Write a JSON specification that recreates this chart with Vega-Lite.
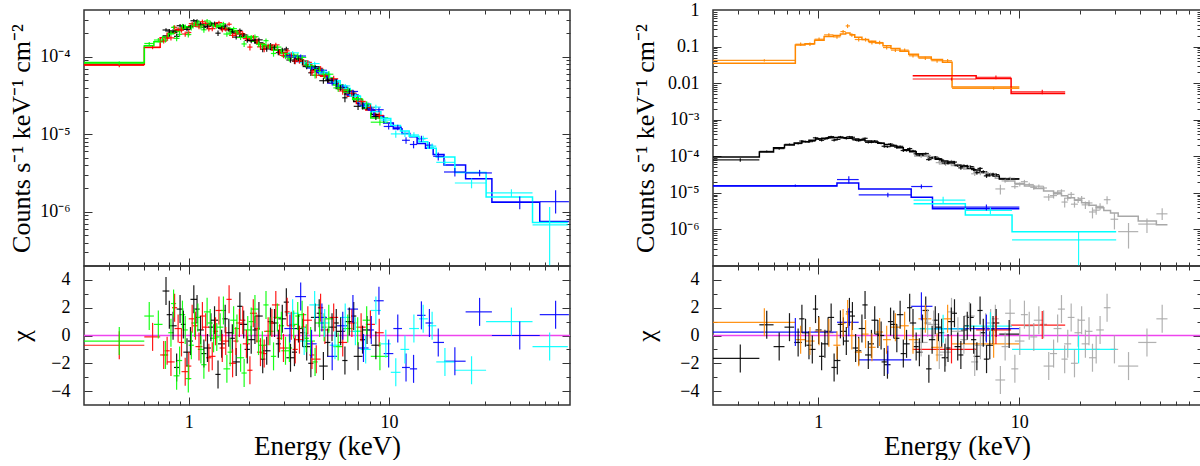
{
"$schema": "https://vega.github.io/schema/vega-lite/v6.json",
"padding": {"left": 7, "top": 0, "right": 0, "bottom": 0},
"config": {
  "font": "Liberation Serif",
  "view": {"stroke": "#333333", "strokeWidth": 1.5},
  "axis": {"grid": false, "domain": false, "labelFont": "Liberation Serif", "labelFontSize": 18, "labelColor": "#000000", "titleFont": "Liberation Serif", "titleFontSize": 26, "titleFontWeight": "normal", "titleColor": "#000000", "tickColor": "#333333", "tickWidth": 1, "labelOverlap": false, "labelFlush": false}
},
"datasets": {
"d": [
{"p":"L","s":"k","e":0.77,"elo":0.74,"ehi":0.80,"y":2.21e-4,"ylo":2.10e-4,"yhi":2.32e-4,"mod":1.85e-4,"chi":3.2},
{"p":"L","s":"k","e":0.835,"elo":0.80,"ehi":0.87,"y":2.14e-4,"ylo":2.02e-4,"yhi":2.26e-4,"mod":2.05e-4,"chi":0.7},
{"p":"L","s":"k","e":0.905,"elo":0.87,"ehi":0.94,"y":2.51e-4,"ylo":2.37e-4,"yhi":2.64e-4,"mod":2.25e-4,"chi":1.9},
{"p":"L","s":"k","e":0.98,"elo":0.94,"ehi":1.02,"y":2.25e-4,"ylo":2.11e-4,"yhi":2.40e-4,"mod":2.42e-4,"chi":-1.2},
{"p":"L","s":"k","e":1.06,"elo":1.02,"ehi":1.10,"y":2.91e-4,"ylo":2.76e-4,"yhi":3.06e-4,"mod":2.52e-4,"chi":2.6},
{"p":"L","s":"k","e":1.145,"elo":1.10,"ehi":1.19,"y":2.64e-4,"ylo":2.48e-4,"yhi":2.79e-4,"mod":2.58e-4,"chi":0.4},
{"p":"L","s":"k","e":1.24,"elo":1.19,"ehi":1.29,"y":2.46e-4,"ylo":2.30e-4,"yhi":2.62e-4,"mod":2.60e-4,"chi":-0.9},
{"p":"L","s":"k","e":1.345,"elo":1.29,"ehi":1.40,"y":2.69e-4,"ylo":2.54e-4,"yhi":2.84e-4,"mod":2.52e-4,"chi":1.1},
{"p":"L","s":"k","e":1.46,"elo":1.40,"ehi":1.52,"y":2.31e-4,"ylo":2.17e-4,"yhi":2.46e-4,"mod":2.40e-4,"chi":-0.6},
{"p":"L","s":"k","e":1.585,"elo":1.52,"ehi":1.65,"y":2.25e-4,"ylo":2.11e-4,"yhi":2.38e-4,"mod":2.22e-4,"chi":0.2},
{"p":"L","s":"k","e":1.725,"elo":1.65,"ehi":1.80,"y":1.79e-4,"ylo":1.67e-4,"yhi":1.91e-4,"mod":2.02e-4,"chi":-1.9},
{"p":"L","s":"k","e":1.88,"elo":1.80,"ehi":1.96,"y":1.91e-4,"ylo":1.80e-4,"yhi":2.02e-4,"mod":1.82e-4,"chi":0.8},
{"p":"L","s":"k","e":2.05,"elo":1.96,"ehi":2.14,"y":1.61e-4,"ylo":1.49e-4,"yhi":1.72e-4,"mod":1.64e-4,"chi":-0.3},
{"p":"L","s":"k","e":2.24,"elo":2.14,"ehi":2.34,"y":1.65e-4,"ylo":1.54e-4,"yhi":1.75e-4,"mod":1.50e-4,"chi":1.4},
{"p":"L","s":"k","e":2.45,"elo":2.34,"ehi":2.56,"y":1.26e-4,"ylo":1.16e-4,"yhi":1.35e-4,"mod":1.36e-4,"chi":-1.1},
{"p":"L","s":"k","e":2.68,"elo":2.56,"ehi":2.80,"y":1.32e-4,"ylo":1.23e-4,"yhi":1.41e-4,"mod":1.24e-4,"chi":0.9},
{"p":"L","s":"k","e":2.93,"elo":2.80,"ehi":3.07,"y":1.22e-4,"ylo":1.14e-4,"yhi":1.30e-4,"mod":1.13e-4,"chi":1.2},
{"p":"L","s":"k","e":3.22,"elo":3.07,"ehi":3.37,"y":9.06e-5,"ylo":8.35e-5,"yhi":9.77e-5,"mod":1.02e-4,"chi":-1.6},
{"p":"L","s":"k","e":3.53,"elo":3.37,"ehi":3.70,"y":9.42e-5,"ylo":8.78e-5,"yhi":1.01e-4,"mod":9.1e-5,"chi":0.5},
{"p":"L","s":"k","e":3.88,"elo":3.70,"ehi":4.07,"y":7.46e-5,"ylo":6.91e-5,"yhi":8.01e-5,"mod":7.9e-5,"chi":-0.8},
{"p":"L","s":"k","e":4.27,"elo":4.07,"ehi":4.48,"y":7.42e-5,"ylo":6.94e-5,"yhi":7.90e-5,"mod":6.8e-5,"chi":1.3},
{"p":"L","s":"k","e":4.70,"elo":4.48,"ehi":4.94,"y":4.90e-5,"ylo":4.49e-5,"yhi":5.31e-5,"mod":5.8e-5,"chi":-2.2},
{"p":"L","s":"k","e":5.19,"elo":4.94,"ehi":5.45,"y":4.95e-5,"ylo":4.53e-5,"yhi":5.37e-5,"mod":4.7e-5,"chi":0.6},
{"p":"L","s":"k","e":5.73,"elo":5.45,"ehi":6.02,"y":4.0e-5,"ylo":3.65e-5,"yhi":4.35e-5,"mod":3.9e-5,"chi":0.3},
{"p":"L","s":"k","e":6.33,"elo":6.02,"ehi":6.66,"y":3.6e-5,"ylo":3.3e-5,"yhi":3.9e-5,"mod":3.3e-5,"chi":1.0},
{"p":"L","s":"k","e":7.0,"elo":6.66,"ehi":7.37,"y":2.29e-5,"ylo":2.05e-5,"yhi":2.53e-5,"mod":2.65e-5,"chi":-1.5},
{"p":"L","s":"k","e":7.76,"elo":7.37,"ehi":8.16,"y":2.23e-5,"ylo":2.04e-5,"yhi":2.42e-5,"mod":2.15e-5,"chi":0.4},
{"p":"L","s":"k","e":8.59,"elo":8.16,"ehi":9.04,"y":1.69e-5,"ylo":1.53e-5,"yhi":1.85e-5,"mod":1.8e-5,"chi":-0.7},
{"p":"L","s":"k","elo":9.04,"mod":1.8e-5},
{"p":"L","s":"k2","e":0.80,"elo":0.776,"ehi":0.824,"y":2.14e-4,"ylo":2.01e-4,"yhi":2.27e-4,"chi":1.5},
{"p":"L","s":"k2","e":0.87,"elo":0.844,"ehi":0.896,"y":1.83e-4,"ylo":1.69e-4,"yhi":1.97e-4,"chi":-2.3},
{"p":"L","s":"k2","e":0.94,"elo":0.912,"ehi":0.968,"y":2.47e-4,"ylo":2.32e-4,"yhi":2.62e-4,"chi":0.8},
{"p":"L","s":"k2","e":1.02,"elo":0.99,"ehi":1.05,"y":2.41e-4,"ylo":2.25e-4,"yhi":2.57e-4,"chi":-0.4},
{"p":"L","s":"k2","e":1.10,"elo":1.067,"ehi":1.133,"y":2.87e-4,"ylo":2.7e-4,"yhi":3.04e-4,"chi":1.9},
{"p":"L","s":"k2","e":1.19,"elo":1.154,"ehi":1.226,"y":2.38e-4,"ylo":2.21e-4,"yhi":2.55e-4,"chi":-1.3},
{"p":"L","s":"k2","e":1.29,"elo":1.251,"ehi":1.329,"y":2.66e-4,"ylo":2.49e-4,"yhi":2.83e-4,"chi":0.6},
{"p":"L","s":"k2","e":1.40,"elo":1.358,"ehi":1.442,"y":2.01e-4,"ylo":1.85e-4,"yhi":2.17e-4,"chi":-2.8},
{"p":"L","s":"k2","e":1.52,"elo":1.474,"ehi":1.566,"y":2.49e-4,"ylo":2.34e-4,"yhi":2.64e-4,"chi":1.2},
{"p":"L","s":"k2","e":1.65,"elo":1.6,"ehi":1.7,"y":2.09e-4,"ylo":1.95e-4,"yhi":2.23e-4,"chi":-0.2},
{"p":"L","s":"k2","e":1.80,"elo":1.746,"ehi":1.854,"y":2.18e-4,"ylo":2.06e-4,"yhi":2.31e-4,"chi":2.1},
{"p":"L","s":"k2","e":1.96,"elo":1.9,"ehi":2.02,"y":1.62e-4,"ylo":1.51e-4,"yhi":1.73e-4,"chi":-1.0},
{"p":"L","s":"k2","e":2.14,"elo":2.08,"ehi":2.2,"y":1.62e-4,"ylo":1.50e-4,"yhi":1.74e-4,"chi":0.4},
{"p":"L","s":"k2","e":2.34,"elo":2.27,"ehi":2.41,"y":1.25e-4,"ylo":1.14e-4,"yhi":1.36e-4,"chi":-1.7},
{"p":"L","s":"k2","e":2.56,"elo":2.48,"ehi":2.64,"y":1.4e-4,"ylo":1.3e-4,"yhi":1.5e-4,"chi":1.0},
{"p":"L","s":"k2","e":2.80,"elo":2.72,"ehi":2.88,"y":1.13e-4,"ylo":1.04e-4,"yhi":1.22e-4,"chi":-0.6},
{"p":"L","s":"k2","e":3.07,"elo":2.98,"ehi":3.16,"y":1.26e-4,"ylo":1.18e-4,"yhi":1.34e-4,"chi":2.4},
{"p":"L","s":"k2","e":3.37,"elo":3.27,"ehi":3.47,"y":8.74e-5,"ylo":8.02e-5,"yhi":9.46e-5,"chi":-1.2},
{"p":"L","s":"k2","e":3.70,"elo":3.59,"ehi":3.81,"y":8.63e-5,"ylo":7.99e-5,"yhi":9.27e-5,"chi":0.2},
{"p":"L","s":"k2","e":4.07,"elo":3.95,"ehi":4.19,"y":6.2e-5,"ylo":5.65e-5,"yhi":6.75e-5,"chi":-2.0},
{"p":"L","s":"k2","e":4.48,"elo":4.35,"ehi":4.61,"y":7.05e-5,"ylo":6.58e-5,"yhi":7.52e-5,"chi":1.6},
{"p":"L","s":"k2","e":4.94,"elo":4.79,"ehi":5.09,"y":5.0e-5,"ylo":4.61e-5,"yhi":5.39e-5,"chi":-0.5},
{"p":"L","s":"k2","e":5.45,"elo":5.29,"ehi":5.61,"y":4.69e-5,"ylo":4.26e-5,"yhi":5.12e-5,"chi":0.9},
{"p":"L","s":"k2","e":6.02,"elo":5.84,"ehi":6.2,"y":2.95e-5,"ylo":2.59e-5,"yhi":3.31e-5,"chi":-1.8},
{"p":"L","s":"k2","e":6.66,"elo":6.46,"ehi":6.86,"y":3.36e-5,"ylo":3.07e-5,"yhi":3.65e-5,"chi":1.4},
{"p":"L","s":"k2","e":7.37,"elo":7.15,"ehi":7.59,"y":2.33e-5,"ylo":2.09e-5,"yhi":2.57e-5,"chi":-0.3},
{"p":"L","s":"r","e":0.45,"elo":0.3,"ehi":0.6,"y":7.72e-5,"ylo":7.32e-5,"yhi":8.12e-5,"mod":8.0e-5,"chi":-0.7},
{"p":"L","s":"r","e":0.66,"elo":0.6,"ehi":0.72,"y":1.31e-4,"ylo":1.25e-4,"yhi":1.38e-4,"mod":1.32e-4,"chi":-0.1},
{"p":"L","s":"r","e":0.75,"elo":0.72,"ehi":0.78,"y":1.59e-4,"ylo":1.48e-4,"yhi":1.70e-4,"mod":1.75e-4,"chi":-1.4},
{"p":"L","s":"r","e":0.815,"elo":0.78,"ehi":0.85,"y":1.75e-4,"ylo":1.62e-4,"yhi":1.88e-4,"mod":2.0e-4,"chi":-1.9},
{"p":"L","s":"r","e":0.885,"elo":0.85,"ehi":0.92,"y":2.25e-4,"ylo":2.11e-4,"yhi":2.39e-4,"mod":2.18e-4,"chi":0.5},
{"p":"L","s":"r","e":0.96,"elo":0.92,"ehi":1.0,"y":1.96e-4,"ylo":1.81e-4,"yhi":2.11e-4,"mod":2.36e-4,"chi":-2.6},
{"p":"L","s":"r","e":1.04,"elo":1.0,"ehi":1.08,"y":2.67e-4,"ylo":2.51e-4,"yhi":2.83e-4,"mod":2.48e-4,"chi":1.2},
{"p":"L","s":"r","e":1.125,"elo":1.08,"ehi":1.17,"y":2.43e-4,"ylo":2.26e-4,"yhi":2.60e-4,"mod":2.56e-4,"chi":-0.8},
{"p":"L","s":"r","e":1.215,"elo":1.17,"ehi":1.26,"y":2.70e-4,"ylo":2.53e-4,"yhi":2.87e-4,"mod":2.6e-4,"chi":0.6},
{"p":"L","s":"r","e":1.31,"elo":1.26,"ehi":1.36,"y":2.30e-4,"ylo":2.13e-4,"yhi":2.47e-4,"mod":2.55e-4,"chi":-1.5},
{"p":"L","s":"r","e":1.415,"elo":1.36,"ehi":1.47,"y":2.75e-4,"ylo":2.59e-4,"yhi":2.91e-4,"mod":2.46e-4,"chi":1.8},
{"p":"L","s":"r","e":1.53,"elo":1.47,"ehi":1.59,"y":2.26e-4,"ylo":2.11e-4,"yhi":2.41e-4,"mod":2.32e-4,"chi":-0.4},
{"p":"L","s":"r","e":1.655,"elo":1.59,"ehi":1.72,"y":1.88e-4,"ylo":1.74e-4,"yhi":2.02e-4,"mod":2.16e-4,"chi":-2.0},
{"p":"L","s":"r","e":1.79,"elo":1.72,"ehi":1.86,"y":2.10e-4,"ylo":1.97e-4,"yhi":2.23e-4,"mod":1.98e-4,"chi":0.9},
{"p":"L","s":"r","e":1.94,"elo":1.86,"ehi":2.02,"y":1.71e-4,"ylo":1.59e-4,"yhi":1.83e-4,"mod":1.78e-4,"chi":-0.6},
{"p":"L","s":"r","e":2.1,"elo":2.02,"ehi":2.19,"y":1.79e-4,"ylo":1.67e-4,"yhi":1.91e-4,"mod":1.6e-4,"chi":1.6},
{"p":"L","s":"r","e":2.28,"elo":2.19,"ehi":2.38,"y":1.34e-4,"ylo":1.23e-4,"yhi":1.45e-4,"mod":1.47e-4,"chi":-1.2},
{"p":"L","s":"r","e":2.49,"elo":2.38,"ehi":2.6,"y":1.37e-4,"ylo":1.27e-4,"yhi":1.47e-4,"mod":1.34e-4,"chi":0.3},
{"p":"L","s":"r","e":2.72,"elo":2.6,"ehi":2.84,"y":1.42e-4,"ylo":1.33e-4,"yhi":1.51e-4,"mod":1.22e-4,"chi":2.2},
{"p":"L","s":"r","e":2.97,"elo":2.84,"ehi":3.1,"y":1.04e-4,"ylo":9.56e-5,"yhi":1.12e-4,"mod":1.12e-4,"chi":-0.9},
{"p":"L","s":"r","e":3.25,"elo":3.1,"ehi":3.4,"y":1.05e-4,"ylo":9.78e-5,"yhi":1.13e-4,"mod":1.0e-4,"chi":0.7},
{"p":"L","s":"r","e":3.57,"elo":3.4,"ehi":3.74,"y":8.8e-5,"ylo":8.12e-5,"yhi":9.48e-5,"mod":9.0e-5,"chi":-0.3},
{"p":"L","s":"r","e":3.93,"elo":3.74,"ehi":4.12,"y":8.45e-5,"ylo":7.86e-5,"yhi":9.04e-5,"mod":7.8e-5,"chi":1.1},
{"p":"L","s":"r","e":4.33,"elo":4.12,"ehi":4.55,"y":5.76e-5,"ylo":5.26e-5,"yhi":6.26e-5,"mod":6.6e-5,"chi":-1.7},
{"p":"L","s":"r","e":4.78,"elo":4.55,"ehi":5.03,"y":5.77e-5,"ylo":5.35e-5,"yhi":6.19e-5,"mod":5.6e-5,"chi":0.4},
{"p":"L","s":"r","e":5.29,"elo":5.03,"ehi":5.57,"y":5.2e-5,"ylo":4.74e-5,"yhi":5.66e-5,"mod":4.6e-5,"chi":1.3},
{"p":"L","s":"r","e":5.87,"elo":5.57,"ehi":6.18,"y":3.61e-5,"ylo":3.23e-5,"yhi":3.99e-5,"mod":3.8e-5,"chi":-0.5},
{"p":"L","s":"r","e":6.52,"elo":6.18,"ehi":6.87,"y":3.38e-5,"ylo":3.07e-5,"yhi":3.69e-5,"mod":3.1e-5,"chi":0.9},
{"p":"L","s":"r","e":7.25,"elo":6.87,"ehi":7.65,"y":2.65e-5,"ylo":2.4e-5,"yhi":2.9e-5,"mod":2.5e-5,"chi":0.6},
{"p":"L","s":"r","e":8.07,"elo":7.65,"ehi":8.5,"y":2.21e-5,"ylo":2.0e-5,"yhi":2.41e-5,"mod":2.05e-5,"chi":0.8},
{"p":"L","s":"r","e":8.93,"elo":8.5,"ehi":9.4,"y":1.75e-5,"ylo":1.58e-5,"yhi":1.92e-5,"mod":1.72e-5,"chi":0.2},
{"p":"L","s":"r","elo":9.4,"mod":1.72e-5},
{"p":"L","s":"r2","e":0.78,"elo":0.757,"ehi":0.803,"y":1.73e-4,"ylo":1.6e-4,"yhi":1.86e-4,"chi":-1.1},
{"p":"L","s":"r2","e":0.85,"elo":0.825,"ehi":0.875,"y":2.39e-4,"ylo":2.24e-4,"yhi":2.54e-4,"chi":2.0},
{"p":"L","s":"r2","e":0.92,"elo":0.892,"ehi":0.948,"y":2.2e-4,"ylo":2.04e-4,"yhi":2.36e-4,"chi":-0.5},
{"p":"L","s":"r2","e":1.0,"elo":0.97,"ehi":1.03,"y":2.05e-4,"ylo":1.88e-4,"yhi":2.22e-4,"chi":-2.2},
{"p":"L","s":"r2","e":1.08,"elo":1.048,"ehi":1.112,"y":2.64e-4,"ylo":2.46e-4,"yhi":2.82e-4,"chi":0.7},
{"p":"L","s":"r2","e":1.17,"elo":1.135,"ehi":1.205,"y":2.83e-4,"ylo":2.65e-4,"yhi":3.01e-4,"chi":1.4},
{"p":"L","s":"r2","e":1.26,"elo":1.222,"ehi":1.298,"y":2.29e-4,"ylo":2.11e-4,"yhi":2.47e-4,"chi":-1.6},
{"p":"L","s":"r2","e":1.36,"elo":1.319,"ehi":1.401,"y":2.55e-4,"ylo":2.38e-4,"yhi":2.73e-4,"chi":0.3},
{"p":"L","s":"r2","e":1.47,"elo":1.426,"ehi":1.514,"y":2.23e-4,"ylo":2.06e-4,"yhi":2.4e-4,"chi":-0.9},
{"p":"L","s":"r2","e":1.59,"elo":1.542,"ehi":1.638,"y":2.62e-4,"ylo":2.47e-4,"yhi":2.78e-4,"chi":2.6},
{"p":"L","s":"r2","e":1.72,"elo":1.668,"ehi":1.772,"y":1.97e-4,"ylo":1.83e-4,"yhi":2.11e-4,"chi":-0.4},
{"p":"L","s":"r2","e":1.86,"elo":1.804,"ehi":1.916,"y":1.98e-4,"ylo":1.85e-4,"yhi":2.11e-4,"chi":1.1},
{"p":"L","s":"r2","e":2.02,"elo":1.96,"ehi":2.08,"y":1.33e-4,"ylo":1.2e-4,"yhi":1.46e-4,"chi":-2.5},
{"p":"L","s":"r2","e":2.19,"elo":2.124,"ehi":2.256,"y":1.59e-4,"ylo":1.47e-4,"yhi":1.71e-4,"chi":0.5},
{"p":"L","s":"r2","e":2.38,"elo":2.309,"ehi":2.451,"y":1.25e-4,"ylo":1.14e-4,"yhi":1.36e-4,"chi":-1.3},
{"p":"L","s":"r2","e":2.6,"elo":2.52,"ehi":2.68,"y":1.36e-4,"ylo":1.26e-4,"yhi":1.46e-4,"chi":0.9},
{"p":"L","s":"r2","e":2.84,"elo":2.75,"ehi":2.93,"y":1.14e-4,"ylo":1.05e-4,"yhi":1.23e-4,"chi":-0.2},
{"p":"L","s":"r2","e":3.1,"elo":3.01,"ehi":3.19,"y":1.19e-4,"ylo":1.11e-4,"yhi":1.27e-4,"chi":1.7},
{"p":"L","s":"r2","e":3.4,"elo":3.3,"ehi":3.5,"y":8.74e-5,"ylo":7.98e-5,"yhi":9.5e-5,"chi":-1.0},
{"p":"L","s":"r2","e":3.74,"elo":3.63,"ehi":3.85,"y":8.7e-5,"ylo":8.04e-5,"yhi":9.36e-5,"chi":0.6},
{"p":"L","s":"r2","e":4.12,"elo":4.0,"ehi":4.24,"y":6.3e-5,"ylo":5.73e-5,"yhi":6.87e-5,"chi":-1.4},
{"p":"L","s":"r2","e":4.55,"elo":4.41,"ehi":4.69,"y":7.08e-5,"ylo":6.59e-5,"yhi":7.57e-5,"chi":2.0},
{"p":"L","s":"gr","e":0.45,"elo":0.3,"ehi":0.6,"y":8.23e-5,"ylo":7.81e-5,"yhi":8.65e-5,"mod":8.4e-5,"chi":-0.4},
{"p":"L","s":"gr","e":0.635,"elo":0.6,"ehi":0.67,"y":1.48e-4,"ylo":1.41e-4,"yhi":1.55e-4,"mod":1.38e-4,"chi":1.4},
{"p":"L","s":"gr","e":0.705,"elo":0.67,"ehi":0.74,"y":1.64e-4,"ylo":1.54e-4,"yhi":1.74e-4,"mod":1.56e-4,"chi":0.8},
{"p":"L","s":"gr","e":0.765,"elo":0.74,"ehi":0.79,"y":1.64e-4,"ylo":1.52e-4,"yhi":1.76e-4,"mod":1.8e-4,"chi":-1.4},
{"p":"L","s":"gr","e":0.815,"elo":0.79,"ehi":0.84,"y":2.01e-4,"ylo":1.88e-4,"yhi":2.14e-4,"mod":1.98e-4,"chi":0.2},
{"p":"L","s":"gr","e":0.87,"elo":0.84,"ehi":0.9,"y":1.72e-4,"ylo":1.58e-4,"yhi":1.86e-4,"mod":2.12e-4,"chi":-2.9},
{"p":"L","s":"gr","e":0.93,"elo":0.9,"ehi":0.96,"y":2.50e-4,"ylo":2.35e-4,"yhi":2.65e-4,"mod":2.28e-4,"chi":1.5},
{"p":"L","s":"gr","e":0.995,"elo":0.96,"ehi":1.03,"y":1.93e-4,"ylo":1.77e-4,"yhi":2.09e-4,"mod":2.42e-4,"chi":-3.1},
{"p":"L","s":"gr","e":1.07,"elo":1.03,"ehi":1.11,"y":2.67e-4,"ylo":2.51e-4,"yhi":2.83e-4,"mod":2.52e-4,"chi":0.9},
{"p":"L","s":"gr","e":1.15,"elo":1.11,"ehi":1.19,"y":2.41e-4,"ylo":2.24e-4,"yhi":2.58e-4,"mod":2.58e-4,"chi":-1.0},
{"p":"L","s":"gr","e":1.235,"elo":1.19,"ehi":1.28,"y":2.89e-4,"ylo":2.72e-4,"yhi":3.06e-4,"mod":2.6e-4,"chi":1.7},
{"p":"L","s":"gr","e":1.33,"elo":1.28,"ehi":1.38,"y":2.52e-4,"ylo":2.35e-4,"yhi":2.68e-4,"mod":2.55e-4,"chi":-0.2},
{"p":"L","s":"gr","e":1.435,"elo":1.38,"ehi":1.49,"y":2.55e-4,"ylo":2.39e-4,"yhi":2.71e-4,"mod":2.45e-4,"chi":0.6},
{"p":"L","s":"gr","e":1.55,"elo":1.49,"ehi":1.61,"y":1.96e-4,"ylo":1.81e-4,"yhi":2.11e-4,"mod":2.32e-4,"chi":-2.4},
{"p":"L","s":"gr","e":1.675,"elo":1.61,"ehi":1.74,"y":2.30e-4,"ylo":2.16e-4,"yhi":2.44e-4,"mod":2.15e-4,"chi":1.1},
{"p":"L","s":"gr","e":1.815,"elo":1.74,"ehi":1.89,"y":1.77e-4,"ylo":1.64e-4,"yhi":1.89e-4,"mod":1.97e-4,"chi":-1.6},
{"p":"L","s":"gr","e":1.97,"elo":1.89,"ehi":2.05,"y":1.82e-4,"ylo":1.70e-4,"yhi":1.93e-4,"mod":1.77e-4,"chi":0.4},
{"p":"L","s":"gr","e":2.14,"elo":2.05,"ehi":2.23,"y":1.81e-4,"ylo":1.69e-4,"yhi":1.93e-4,"mod":1.58e-4,"chi":1.9},
{"p":"L","s":"gr","e":2.33,"elo":2.23,"ehi":2.43,"y":1.37e-4,"ylo":1.26e-4,"yhi":1.48e-4,"mod":1.45e-4,"chi":-0.7},
{"p":"L","s":"gr","e":2.54,"elo":2.43,"ehi":2.65,"y":1.36e-4,"ylo":1.26e-4,"yhi":1.46e-4,"mod":1.33e-4,"chi":0.3},
{"p":"L","s":"gr","e":2.77,"elo":2.65,"ehi":2.9,"y":1.33e-4,"ylo":1.24e-4,"yhi":1.42e-4,"mod":1.21e-4,"chi":1.3},
{"p":"L","s":"gr","e":3.04,"elo":2.9,"ehi":3.18,"y":1.01e-4,"ylo":9.27e-5,"yhi":1.09e-4,"mod":1.1e-4,"chi":-1.1},
{"p":"L","s":"gr","e":3.34,"elo":3.18,"ehi":3.5,"y":1.05e-4,"ylo":9.76e-5,"yhi":1.12e-4,"mod":9.9e-5,"chi":0.8},
{"p":"L","s":"gr","e":3.68,"elo":3.5,"ehi":3.86,"y":9.79e-5,"ylo":9.13e-5,"yhi":1.05e-4,"mod":8.8e-5,"chi":1.5},
{"p":"L","s":"gr","e":4.06,"elo":3.86,"ehi":4.27,"y":7.37e-5,"ylo":6.80e-5,"yhi":7.94e-5,"mod":7.6e-5,"chi":-0.4},
{"p":"L","s":"gr","e":4.5,"elo":4.27,"ehi":4.74,"y":6.83e-5,"ylo":6.35e-5,"yhi":7.31e-5,"mod":6.4e-5,"chi":0.9},
{"p":"L","s":"gr","e":5.0,"elo":4.74,"ehi":5.27,"y":5.94e-5,"ylo":5.41e-5,"yhi":6.47e-5,"mod":5.3e-5,"chi":1.2},
{"p":"L","s":"gr","e":5.57,"elo":5.27,"ehi":5.88,"y":3.96e-5,"ylo":3.53e-5,"yhi":4.39e-5,"mod":4.3e-5,"chi":-0.8},
{"p":"L","s":"gr","e":6.22,"elo":5.88,"ehi":6.58,"y":3.68e-5,"ylo":3.33e-5,"yhi":4.03e-5,"mod":3.5e-5,"chi":0.5},
{"p":"L","s":"gr","e":6.97,"elo":6.58,"ehi":7.38,"y":2.88e-5,"ylo":2.6e-5,"yhi":3.16e-5,"mod":2.8e-5,"chi":0.3},
{"p":"L","s":"gr","e":7.73,"elo":7.38,"ehi":8.1,"y":2.44e-5,"ylo":2.22e-5,"yhi":2.66e-5,"mod":2.2e-5,"chi":1.1},
{"p":"L","s":"gr","e":9.0,"elo":8.1,"ehi":9.9,"y":1.43e-5,"ylo":1.30e-5,"yhi":1.56e-5,"mod":1.62e-5,"chi":-1.5},
{"p":"L","s":"gr","elo":9.9,"mod":1.62e-5},
{"p":"L","s":"gr2","e":0.84,"elo":0.815,"ehi":0.865,"y":2.39e-4,"ylo":2.25e-4,"yhi":2.53e-4,"chi":2.3},
{"p":"L","s":"gr2","e":0.9,"elo":0.873,"ehi":0.927,"y":1.94e-4,"ylo":1.79e-4,"yhi":2.1e-4,"chi":-1.8},
{"p":"L","s":"gr2","e":0.96,"elo":0.931,"ehi":0.989,"y":2.44e-4,"ylo":2.27e-4,"yhi":2.6e-4,"chi":0.4},
{"p":"L","s":"gr2","e":1.03,"elo":0.999,"ehi":1.061,"y":2.36e-4,"ylo":2.18e-4,"yhi":2.53e-4,"chi":-0.7},
{"p":"L","s":"gr2","e":1.11,"elo":1.077,"ehi":1.143,"y":2.79e-4,"ylo":2.61e-4,"yhi":2.97e-4,"chi":1.3},
{"p":"L","s":"gr2","e":1.19,"elo":1.154,"ehi":1.226,"y":2.22e-4,"ylo":2.04e-4,"yhi":2.4e-4,"chi":-2.1},
{"p":"L","s":"gr2","e":1.28,"elo":1.242,"ehi":1.318,"y":2.73e-4,"ylo":2.55e-4,"yhi":2.91e-4,"chi":0.9},
{"p":"L","s":"gr2","e":1.38,"elo":1.339,"ehi":1.421,"y":2.46e-4,"ylo":2.29e-4,"yhi":2.64e-4,"chi":-0.1},
{"p":"L","s":"gr2","e":1.49,"elo":1.445,"ehi":1.535,"y":2.66e-4,"ylo":2.49e-4,"yhi":2.82e-4,"chi":1.8},
{"p":"L","s":"gr2","e":1.61,"elo":1.562,"ehi":1.658,"y":2.02e-4,"ylo":1.86e-4,"yhi":2.17e-4,"chi":-1.2},
{"p":"L","s":"gr2","e":1.74,"elo":1.688,"ehi":1.792,"y":2.07e-4,"ylo":1.93e-4,"yhi":2.21e-4,"chi":0.5},
{"p":"L","s":"gr2","e":1.89,"elo":1.833,"ehi":1.947,"y":1.46e-4,"ylo":1.33e-4,"yhi":1.59e-4,"chi":-2.7},
{"p":"L","s":"gr2","e":2.05,"elo":1.99,"ehi":2.11,"y":1.77e-4,"ylo":1.64e-4,"yhi":1.9e-4,"chi":1.0},
{"p":"L","s":"gr2","e":2.23,"elo":2.163,"ehi":2.297,"y":1.45e-4,"ylo":1.33e-4,"yhi":1.57e-4,"chi":-0.4},
{"p":"L","s":"gr2","e":2.43,"elo":2.357,"ehi":2.503,"y":1.61e-4,"ylo":1.5e-4,"yhi":1.72e-4,"chi":2.2},
{"p":"L","s":"gr2","e":2.65,"elo":2.57,"ehi":2.73,"y":1.1e-4,"ylo":1.0e-4,"yhi":1.2e-4,"chi":-1.5},
{"p":"L","s":"gr2","e":2.9,"elo":2.81,"ehi":2.99,"y":1.19e-4,"ylo":1.1e-4,"yhi":1.28e-4,"chi":0.7},
{"p":"L","s":"gr2","e":3.18,"elo":3.08,"ehi":3.28,"y":9.46e-5,"ylo":8.64e-5,"yhi":1.03e-4,"chi":-0.9},
{"p":"L","s":"gr2","e":3.5,"elo":3.4,"ehi":3.6,"y":1.02e-4,"ylo":9.46e-5,"yhi":1.1e-4,"chi":1.4},
{"p":"L","s":"gr2","e":3.86,"elo":3.74,"ehi":3.98,"y":7.87e-5,"ylo":7.23e-5,"yhi":8.51e-5,"chi":-0.2},
{"p":"L","s":"gr2","e":4.27,"elo":4.14,"ehi":4.4,"y":5.77e-5,"ylo":5.23e-5,"yhi":6.31e-5,"chi":-1.9},
{"p":"L","s":"gr2","e":4.74,"elo":4.6,"ehi":4.88,"y":5.98e-5,"ylo":5.52e-5,"yhi":6.44e-5,"chi":0.6},
{"p":"L","s":"b","e":3.2,"elo":3.0,"ehi":3.4,"y":1.03e-4,"ylo":9.7e-5,"yhi":1.09e-4,"mod":1.0e-4,"chi":0.5},
{"p":"L","s":"b","e":3.62,"elo":3.4,"ehi":3.85,"y":1.02e-4,"ylo":9.66e-5,"yhi":1.07e-4,"mod":8.7e-5,"chi":2.8},
{"p":"L","s":"b","e":4.1,"elo":3.85,"ehi":4.35,"y":7.14e-5,"ylo":6.7e-5,"yhi":7.58e-5,"mod":7.4e-5,"chi":-0.6},
{"p":"L","s":"b","e":4.62,"elo":4.35,"ehi":4.9,"y":6.68e-5,"ylo":6.31e-5,"yhi":7.05e-5,"mod":6.2e-5,"chi":1.3},
{"p":"L","s":"b","e":5.2,"elo":4.9,"ehi":5.5,"y":4.55e-5,"ylo":4.25e-5,"yhi":4.85e-5,"mod":5.0e-5,"chi":-1.5},
{"p":"L","s":"b","e":5.87,"elo":5.5,"ehi":6.2,"y":4.17e-5,"ylo":3.93e-5,"yhi":4.41e-5,"mod":4.0e-5,"chi":0.7},
{"p":"L","s":"b","e":6.6,"elo":6.2,"ehi":7.0,"y":3.56e-5,"ylo":3.37e-5,"yhi":3.75e-5,"mod":3.2e-5,"chi":1.9},
{"p":"L","s":"b","e":7.45,"elo":7.0,"ehi":7.9,"y":2.37e-5,"ylo":2.22e-5,"yhi":2.52e-5,"mod":2.5e-5,"chi":-0.9},
{"p":"L","s":"b","e":8.15,"elo":7.9,"ehi":8.4,"y":2.11e-5,"ylo":1.95e-5,"yhi":2.27e-5,"mod":2.05e-5,"chi":0.4},
{"p":"L","s":"b","e":8.9,"elo":8.4,"ehi":9.4,"y":2.07e-5,"ylo":1.93e-5,"yhi":2.21e-5,"mod":1.72e-5,"chi":2.5},
{"p":"L","s":"b","e":9.95,"elo":9.4,"ehi":10.5,"y":1.26e-5,"ylo":1.15e-5,"yhi":1.37e-5,"mod":1.4e-5,"chi":-1.3},
{"p":"L","s":"b","e":11.05,"elo":10.5,"ehi":11.6,"y":1.23e-5,"ylo":1.13e-5,"yhi":1.33e-5,"mod":1.18e-5,"chi":0.5},
{"p":"L","s":"b","e":12.15,"elo":11.6,"ehi":12.7,"y":8.36e-6,"ylo":7.56e-6,"yhi":9.16e-6,"mod":1.02e-5,"chi":-2.3},
{"p":"L","s":"b","e":13.25,"elo":12.7,"ehi":13.8,"y":7.38e-6,"ylo":6.58e-6,"yhi":8.18e-6,"mod":9.3e-6,"chi":-2.4},
{"p":"L","s":"b","e":14.5,"elo":13.8,"ehi":15.2,"y":8.76e-6,"ylo":7.96e-6,"yhi":9.56e-6,"mod":7.6e-6,"chi":1.45},
{"p":"L","s":"b","e":15.9,"elo":15.2,"ehi":16.6,"y":7.23e-6,"ylo":6.53e-6,"yhi":7.93e-6,"mod":6.6e-6,"chi":0.9},
{"p":"L","s":"b","e":17.6,"elo":16.6,"ehi":18.8,"y":5.2e-6,"ylo":4.6e-6,"yhi":5.8e-6,"mod":5.5e-6,"chi":-0.5},
{"p":"L","s":"b","e":21.3,"elo":18.8,"ehi":24.1,"y":3.26e-6,"ylo":2.86e-6,"yhi":3.66e-6,"mod":4.0e-6,"chi":-1.85},
{"p":"L","s":"b","e":28.3,"elo":24.1,"ehi":32.6,"y":3.17e-6,"ylo":2.87e-6,"yhi":3.47e-6,"mod":2.66e-6,"chi":1.7},
{"p":"L","s":"b","e":44.9,"elo":32.6,"ehi":56.5,"y":1.33e-6,"ylo":1.08e-6,"yhi":1.58e-6,"mod":1.33e-6,"chi":0.0},
{"p":"L","s":"b","e":67.8,"elo":56.5,"ehi":79,"y":1.35e-6,"ylo":9.5e-7,"yhi":1.9e-6,"mod":7.5e-7,"chi":1.5},
{"p":"L","s":"b","elo":79,"mod":7.5e-7},
{"p":"L","s":"c","e":3.3,"elo":3.1,"ehi":3.55,"y":1.12e-4,"ylo":1.06e-4,"yhi":1.18e-4,"mod":1.02e-4,"chi":1.6},
{"p":"L","s":"c","e":3.77,"elo":3.55,"ehi":4.0,"y":8.39e-5,"ylo":7.87e-5,"yhi":8.91e-5,"mod":8.6e-5,"chi":-0.4},
{"p":"L","s":"c","e":4.25,"elo":4.0,"ehi":4.5,"y":8.15e-5,"ylo":7.72e-5,"yhi":8.58e-5,"mod":7.2e-5,"chi":2.2},
{"p":"L","s":"c","e":4.77,"elo":4.5,"ehi":5.05,"y":6.32e-5,"ylo":5.96e-5,"yhi":6.68e-5,"mod":6.0e-5,"chi":0.9},
{"p":"L","s":"c","e":5.37,"elo":5.05,"ehi":5.7,"y":4.7e-5,"ylo":4.41e-5,"yhi":4.99e-5,"mod":4.9e-5,"chi":-0.7},
{"p":"L","s":"c","e":6.04,"elo":5.7,"ehi":6.4,"y":4.2e-5,"ylo":3.97e-5,"yhi":4.43e-5,"mod":3.9e-5,"chi":1.3},
{"p":"L","s":"c","e":6.79,"elo":6.4,"ehi":7.2,"y":3.16e-5,"ylo":2.97e-5,"yhi":3.35e-5,"mod":3.1e-5,"chi":0.3},
{"p":"L","s":"c","e":7.64,"elo":7.2,"ehi":8.1,"y":2.3e-5,"ylo":2.15e-5,"yhi":2.45e-5,"mod":2.45e-5,"chi":-1.0},
{"p":"L","s":"c","e":8.59,"elo":8.1,"ehi":9.1,"y":2.24e-5,"ylo":2.08e-5,"yhi":2.4e-5,"mod":1.95e-5,"chi":1.8},
{"p":"L","s":"c","e":9.63,"elo":9.1,"ehi":10.2,"y":1.52e-5,"ylo":1.39e-5,"yhi":1.65e-5,"mod":1.6e-5,"chi":-0.6},
{"p":"L","s":"c","e":10.8,"elo":10.2,"ehi":11.4,"y":1.01e-5,"ylo":9.0e-6,"yhi":1.12e-5,"mod":1.3e-5,"chi":-2.65},
{"p":"L","s":"c","e":12.0,"elo":11.4,"ehi":12.6,"y":1.01e-5,"ylo":9.2e-6,"yhi":1.1e-5,"mod":1.1e-5,"chi":-1.0},
{"p":"L","s":"c","e":13.3,"elo":12.6,"ehi":14.1,"y":9.8e-6,"ylo":9.0e-6,"yhi":1.06e-5,"mod":9.4e-6,"chi":0.5},
{"p":"L","s":"c","e":14.8,"elo":14.1,"ehi":15.6,"y":8.84e-6,"ylo":8.14e-6,"yhi":9.54e-6,"mod":8.0e-6,"chi":1.2},
{"p":"L","s":"c","e":16.4,"elo":15.6,"ehi":17.2,"y":7.02e-6,"ylo":6.42e-6,"yhi":7.62e-6,"mod":6.6e-6,"chi":0.7},
{"p":"L","s":"c","e":19.0,"elo":17.2,"ehi":21.3,"y":4.34e-6,"ylo":3.94e-6,"yhi":4.74e-6,"mod":5.1e-6,"chi":-1.9},
{"p":"L","s":"c","e":25.8,"elo":21.3,"ehi":30.5,"y":2.35e-6,"ylo":2.01e-6,"yhi":2.69e-6,"mod":3.2e-6,"chi":-2.5},
{"p":"L","s":"c","e":40.8,"elo":30.5,"ehi":52,"y":1.75e-6,"ylo":1.55e-6,"yhi":1.95e-6,"mod":1.55e-6,"chi":1.0},
{"p":"L","s":"c","e":63.3,"elo":52,"ehi":78,"y":6.8e-7,"ylo":1.5e-7,"yhi":1.15e-6,"mod":7.3e-7,"chi":-0.8},
{"p":"L","s":"c","elo":78,"mod":7.3e-7},
{"p":"R","s":"gy","e":3.25,"elo":3.0,"ehi":3.5,"y":1.0e-4,"ylo":9.0e-5,"yhi":1.1e-4,"mod":1.05e-4,"chi":-0.5},
{"p":"R","s":"gy","e":3.75,"elo":3.5,"ehi":4.0,"y":9.38e-5,"ylo":8.53e-5,"yhi":1.02e-4,"mod":8.7e-5,"chi":0.8},
{"p":"R","s":"gy","e":4.3,"elo":4.0,"ehi":4.6,"y":6.16e-5,"ylo":5.46e-5,"yhi":6.86e-5,"mod":7.0e-5,"chi":-1.2},
{"p":"R","s":"gy","e":4.95,"elo":4.6,"ehi":5.3,"y":5.77e-5,"ylo":5.21e-5,"yhi":6.33e-5,"mod":5.6e-5,"chi":0.3},
{"p":"R","s":"gy","e":5.65,"elo":5.3,"ehi":6.0,"y":5.13e-5,"ylo":4.68e-5,"yhi":5.58e-5,"mod":4.5e-5,"chi":1.4},
{"p":"R","s":"gy","e":6.4,"elo":6.0,"ehi":6.8,"y":3.43e-5,"ylo":3.05e-5,"yhi":3.81e-5,"mod":3.7e-5,"chi":-0.7},
{"p":"R","s":"gy","e":7.2,"elo":6.8,"ehi":7.6,"y":3.29e-5,"ylo":2.97e-5,"yhi":3.61e-5,"mod":3.0e-5,"chi":0.9},
{"p":"R","s":"gy","e":8.05,"elo":7.6,"ehi":8.5,"y":1.28e-5,"ylo":9.0e-6,"yhi":1.66e-5,"mod":2.5e-5,"chi":-3.2},
{"p":"R","s":"gy","e":9.0,"elo":8.5,"ehi":9.5,"y":2.5e-5,"ylo":2.25e-5,"yhi":2.75e-5,"mod":2.1e-5,"chi":1.6},
{"p":"R","s":"gy","e":10.05,"elo":9.5,"ehi":10.6,"y":1.71e-5,"ylo":1.49e-5,"yhi":1.93e-5,"mod":1.8e-5,"chi":-0.4},
{"p":"R","s":"gy","e":11.2,"elo":10.6,"ehi":11.8,"y":1.69e-5,"ylo":1.49e-5,"yhi":1.89e-5,"mod":1.55e-5,"chi":0.7},
{"p":"R","s":"gy","e":12.5,"elo":11.8,"ehi":13.2,"y":1.52e-5,"ylo":1.34e-5,"yhi":1.7e-5,"mod":1.32e-5,"chi":1.1},
{"p":"R","s":"gy","e":14.0,"elo":13.2,"ehi":14.8,"y":7.7e-6,"ylo":6.1e-6,"yhi":9.3e-6,"mod":1.12e-5,"chi":-2.2},
{"p":"R","s":"gy","e":15.5,"elo":14.8,"ehi":16.2,"y":1.03e-5,"ylo":8.8e-6,"yhi":1.18e-5,"mod":9.5e-6,"chi":0.5},
{"p":"R","s":"gy","e":16.8,"elo":16.2,"ehi":17.4,"y":5.6e-6,"ylo":4.0e-6,"yhi":7.2e-6,"mod":8.3e-6,"chi":-1.7},
{"p":"R","s":"gy","e":18.1,"elo":17.4,"ehi":18.8,"y":9.1e-6,"ylo":7.7e-6,"yhi":1.05e-5,"mod":7.3e-6,"chi":1.3},
{"p":"R","s":"gy","e":19.6,"elo":18.8,"ehi":20.4,"y":6.5e-6,"ylo":5.3e-6,"yhi":7.7e-6,"mod":6.3e-6,"chi":0.2},
{"p":"R","s":"gy","e":21.3,"elo":20.4,"ehi":22.2,"y":4.7e-6,"ylo":3.6e-6,"yhi":5.8e-6,"mod":5.4e-6,"chi":-0.6},
{"p":"R","s":"gy","e":23.1,"elo":22.2,"ehi":24.1,"y":3.0e-6,"ylo":2.0e-6,"yhi":4.0e-6,"mod":4.6e-6,"chi":-1.6},
{"p":"R","s":"gy","e":25.2,"elo":24.1,"ehi":26.3,"y":4.26e-6,"ylo":3.36e-6,"yhi":5.16e-6,"mod":3.9e-6,"chi":0.4},
{"p":"R","s":"gy","e":27.3,"elo":26.3,"ehi":28.4,"y":6.5e-6,"ylo":4.9e-6,"yhi":8.1e-6,"mod":3.3e-6,"chi":2.0},
{"p":"R","s":"gy","e":29.7,"elo":28.4,"ehi":31.0,"y":1.9e-6,"ylo":1.0e-6,"yhi":2.8e-6,"mod":2.8e-6,"chi":-1.0},
{"p":"R","s":"gy","e":34.9,"elo":31.0,"ehi":39.0,"y":8.7e-7,"ylo":3.0e-7,"yhi":1.5e-6,"mod":2.3e-6,"chi":-2.2},
{"p":"R","s":"gy","e":43.1,"elo":39.0,"ehi":48.0,"y":1.4e-6,"ylo":8.0e-7,"yhi":2.0e-6,"mod":1.7e-6,"chi":-0.5},
{"p":"R","s":"gy","e":51.3,"elo":48.0,"ehi":54.5,"y":2.67e-6,"ylo":1.8e-6,"yhi":3.8e-6,"mod":1.35e-6,"chi":1.2},
{"p":"R","s":"gy","elo":54.5,"mod":1.35e-6},
{"p":"R","s":"gy2","e":3.5,"elo":3.36,"ehi":3.64,"y":1.05e-4,"ylo":9.5e-5,"yhi":1.14e-4,"chi":0.9},
{"p":"R","s":"gy2","e":4.0,"elo":3.84,"ehi":4.16,"y":6.71e-5,"ylo":5.93e-5,"yhi":7.49e-5,"chi":-1.4},
{"p":"R","s":"gy2","e":4.6,"elo":4.42,"ehi":4.78,"y":7.37e-5,"ylo":6.74e-5,"yhi":8.0e-5,"chi":1.7},
{"p":"R","s":"gy2","e":5.3,"elo":5.09,"ehi":5.51,"y":4.85e-5,"ylo":4.35e-5,"yhi":5.35e-5,"chi":-0.3},
{"p":"R","s":"gy2","e":6.0,"elo":5.76,"ehi":6.24,"y":3.32e-5,"ylo":2.91e-5,"yhi":3.73e-5,"chi":-1.9},
{"p":"R","s":"gy2","e":6.8,"elo":6.53,"ehi":7.07,"y":3.55e-5,"ylo":3.22e-5,"yhi":3.89e-5,"chi":0.6},
{"p":"R","s":"gy2","e":7.6,"elo":7.3,"ehi":7.9,"y":3.08e-5,"ylo":2.81e-5,"yhi":3.36e-5,"chi":1.2},
{"p":"R","s":"gy2","e":8.5,"elo":8.16,"ehi":8.84,"y":2.12e-5,"ylo":1.89e-5,"yhi":2.35e-5,"chi":-0.8},
{"p":"R","s":"gy2","e":9.5,"elo":9.12,"ehi":9.88,"y":1.48e-5,"ylo":1.29e-5,"yhi":1.68e-5,"chi":-2.4},
{"p":"R","s":"gy2","e":10.6,"elo":10.18,"ehi":11.02,"y":2.02e-5,"ylo":1.79e-5,"yhi":2.26e-5,"chi":1.5},
{"p":"R","s":"gy2","e":11.8,"elo":11.33,"ehi":12.27,"y":1.41e-5,"ylo":1.21e-5,"yhi":1.61e-5,"chi":-0.1},
{"p":"R","s":"gy2","e":13.2,"elo":12.67,"ehi":13.73,"y":1.36e-5,"ylo":1.19e-5,"yhi":1.53e-5,"chi":0.8},
{"p":"R","s":"gy2","e":14.8,"elo":14.2,"ehi":15.4,"y":8.43e-6,"ylo":6.99e-6,"yhi":9.87e-6,"chi":-1.3},
{"p":"R","s":"gy2","e":16.2,"elo":15.55,"ehi":16.85,"y":1.13e-5,"ylo":1.0e-5,"yhi":1.25e-5,"chi":1.9},
{"p":"R","s":"gy2","e":17.4,"elo":16.7,"ehi":18.1,"y":7.15e-6,"ylo":6.06e-6,"yhi":8.24e-6,"chi":-0.6},
{"p":"R","s":"gy2","e":18.8,"elo":18.05,"ehi":19.55,"y":4.9e-6,"ylo":3.95e-6,"yhi":5.85e-6,"chi":-2.0},
{"p":"R","s":"gy2","e":20.4,"elo":19.58,"ehi":21.22,"y":7.08e-6,"ylo":5.92e-6,"yhi":8.24e-6,"chi":1.1},
{"p":"R","s":"gy2","e":22.2,"elo":21.3,"ehi":23.1,"y":5.3e-6,"ylo":4.3e-6,"yhi":6.3e-6,"chi":0.3},
{"p":"R","s":"gy2","e":24.1,"elo":23.1,"ehi":25.1,"y":3.36e-6,"ylo":2.52e-6,"yhi":4.2e-6,"chi":-1.0},
{"p":"R","s":"k","e":0.41,"elo":0.3,"ehi":0.51,"y":8.0e-5,"ylo":7.1e-5,"yhi":8.9e-5,"mod":9.5e-5,"chi":-1.65},
{"p":"R","s":"k","e":0.555,"elo":0.51,"ehi":0.6,"y":1.36e-4,"ylo":1.28e-4,"yhi":1.44e-4,"mod":1.3e-4,"chi":0.77},
{"p":"R","s":"k","e":0.64,"elo":0.6,"ehi":0.68,"y":1.62e-4,"ylo":1.52e-4,"yhi":1.72e-4,"mod":1.7e-4,"chi":-0.8},
{"p":"R","s":"k","e":0.72,"elo":0.68,"ehi":0.76,"y":2.12e-4,"ylo":2.0e-4,"yhi":2.24e-4,"mod":2.05e-4,"chi":0.6},
{"p":"R","s":"k","e":0.795,"elo":0.76,"ehi":0.83,"y":2.23e-4,"ylo":2.09e-4,"yhi":2.37e-4,"mod":2.3e-4,"chi":-0.5},
{"p":"R","s":"k","e":0.865,"elo":0.83,"ehi":0.9,"y":2.53e-4,"ylo":2.38e-4,"yhi":2.68e-4,"mod":2.5e-4,"chi":0.2},
{"p":"R","s":"k","e":0.935,"elo":0.9,"ehi":0.97,"y":2.59e-4,"ylo":2.42e-4,"yhi":2.75e-4,"mod":2.75e-4,"chi":-1.0},
{"p":"R","s":"k","e":1.005,"elo":0.97,"ehi":1.04,"y":3.02e-4,"ylo":2.84e-4,"yhi":3.2e-4,"mod":2.95e-4,"chi":0.4},
{"p":"R","s":"k","e":1.08,"elo":1.04,"ehi":1.12,"y":2.99e-4,"ylo":2.8e-4,"yhi":3.18e-4,"mod":3.1e-4,"chi":-0.6},
{"p":"R","s":"k","e":1.16,"elo":1.12,"ehi":1.2,"y":3.45e-4,"ylo":3.26e-4,"yhi":3.64e-4,"mod":3.2e-4,"chi":1.3},
{"p":"R","s":"k","e":1.245,"elo":1.2,"ehi":1.29,"y":2.9e-4,"ylo":2.7e-4,"yhi":3.09e-4,"mod":3.25e-4,"chi":-1.8},
{"p":"R","s":"k","e":1.335,"elo":1.29,"ehi":1.38,"y":3.26e-4,"ylo":3.07e-4,"yhi":3.45e-4,"mod":3.2e-4,"chi":0.3},
{"p":"R","s":"k","e":1.43,"elo":1.38,"ehi":1.48,"y":3.42e-4,"ylo":3.23e-4,"yhi":3.61e-4,"mod":3.1e-4,"chi":1.7},
{"p":"R","s":"k","e":1.535,"elo":1.48,"ehi":1.59,"y":2.79e-4,"ylo":2.61e-4,"yhi":2.97e-4,"mod":2.95e-4,"chi":-0.9},
{"p":"R","s":"k","e":1.65,"elo":1.59,"ehi":1.71,"y":2.89e-4,"ylo":2.72e-4,"yhi":3.06e-4,"mod":2.8e-4,"chi":0.5},
{"p":"R","s":"k","e":1.775,"elo":1.71,"ehi":1.84,"y":2.4e-4,"ylo":2.24e-4,"yhi":2.56e-4,"mod":2.62e-4,"chi":-1.4},
{"p":"R","s":"k","e":1.91,"elo":1.84,"ehi":1.98,"y":2.62e-4,"ylo":2.47e-4,"yhi":2.77e-4,"mod":2.45e-4,"chi":1.1},
{"p":"R","s":"k","e":2.055,"elo":1.98,"ehi":2.13,"y":2.28e-4,"ylo":2.14e-4,"yhi":2.42e-4,"mod":2.28e-4,"chi":0.0},
{"p":"R","s":"k","e":2.21,"elo":2.13,"ehi":2.29,"y":1.83e-4,"ylo":1.7e-4,"yhi":1.96e-4,"mod":2.1e-4,"chi":-2.1},
{"p":"R","s":"k","e":2.375,"elo":2.29,"ehi":2.46,"y":2.0e-4,"ylo":1.88e-4,"yhi":2.12e-4,"mod":1.9e-4,"chi":0.8},
{"p":"R","s":"k","e":2.555,"elo":2.46,"ehi":2.65,"y":1.87e-4,"ylo":1.76e-4,"yhi":1.98e-4,"mod":1.7e-4,"chi":1.5},
{"p":"R","s":"k","e":2.75,"elo":2.65,"ehi":2.85,"y":1.44e-4,"ylo":1.34e-4,"yhi":1.54e-4,"mod":1.5e-4,"chi":-0.6},
{"p":"R","s":"k","e":2.96,"elo":2.85,"ehi":3.07,"y":1.41e-4,"ylo":1.32e-4,"yhi":1.5e-4,"mod":1.33e-4,"chi":0.9},
{"p":"R","s":"k","e":3.185,"elo":3.07,"ehi":3.3,"y":1.08e-4,"ylo":1.0e-4,"yhi":1.16e-4,"mod":1.18e-4,"chi":-1.2},
{"p":"R","s":"k","e":3.425,"elo":3.3,"ehi":3.55,"y":1.19e-4,"ylo":1.11e-4,"yhi":1.26e-4,"mod":1.05e-4,"chi":1.8},
{"p":"R","s":"k","e":3.685,"elo":3.55,"ehi":3.82,"y":9.1e-5,"ylo":8.45e-5,"yhi":9.75e-5,"mod":9.3e-5,"chi":-0.3},
{"p":"R","s":"k","e":3.965,"elo":3.82,"ehi":4.11,"y":8.66e-5,"ylo":8.06e-5,"yhi":9.26e-5,"mod":8.3e-5,"chi":0.6},
{"p":"R","s":"k","e":4.265,"elo":4.11,"ehi":4.42,"y":6.52e-5,"ylo":5.97e-5,"yhi":7.07e-5,"mod":7.4e-5,"chi":-1.6},
{"p":"R","s":"k","e":4.59,"elo":4.42,"ehi":4.76,"y":7.1e-5,"ylo":6.6e-5,"yhi":7.6e-5,"mod":6.6e-5,"chi":1.0},
{"p":"R","s":"k","e":4.94,"elo":4.76,"ehi":5.12,"y":5.54e-5,"ylo":5.09e-5,"yhi":5.99e-5,"mod":5.9e-5,"chi":-0.8},
{"p":"R","s":"k","e":5.31,"elo":5.12,"ehi":5.51,"y":5.48e-5,"ylo":5.03e-5,"yhi":5.93e-5,"mod":5.3e-5,"chi":0.4},
{"p":"R","s":"k","e":5.72,"elo":5.51,"ehi":5.93,"y":5.22e-5,"ylo":4.82e-5,"yhi":5.62e-5,"mod":4.7e-5,"chi":1.3},
{"p":"R","s":"k","e":6.15,"elo":5.93,"ehi":6.38,"y":3.6e-5,"ylo":3.2e-5,"yhi":4.0e-5,"mod":4.2e-5,"chi":-1.5},
{"p":"R","s":"k","e":6.62,"elo":6.38,"ehi":6.87,"y":3.77e-5,"ylo":3.42e-5,"yhi":4.12e-5,"mod":3.7e-5,"chi":0.2},
{"p":"R","s":"k","e":7.13,"elo":6.87,"ehi":7.4,"y":3.08e-5,"ylo":2.76e-5,"yhi":3.4e-5,"mod":3.3e-5,"chi":-0.7},
{"p":"R","s":"k","e":7.67,"elo":7.4,"ehi":7.95,"y":3.16e-5,"ylo":2.87e-5,"yhi":3.45e-5,"mod":2.9e-5,"chi":0.9},
{"p":"R","s":"k","e":8.9,"elo":7.95,"ehi":10.0,"y":2.42e-5,"ylo":2.24e-5,"yhi":2.6e-5,"mod":2.4e-5,"chi":0.1},
{"p":"R","s":"k","elo":10.0,"mod":2.4e-5},
{"p":"R","s":"k2","e":0.83,"elo":0.805,"ehi":0.855,"y":2.61e-4,"ylo":2.45e-4,"yhi":2.77e-4,"chi":1.2},
{"p":"R","s":"k2","e":0.9,"elo":0.873,"ehi":0.927,"y":2.5e-4,"ylo":2.33e-4,"yhi":2.67e-4,"chi":-0.7},
{"p":"R","s":"k2","e":0.97,"elo":0.941,"ehi":0.999,"y":3.2e-4,"ylo":3.02e-4,"yhi":3.39e-4,"chi":1.9},
{"p":"R","s":"k2","e":1.04,"elo":1.009,"ehi":1.071,"y":2.73e-4,"ylo":2.54e-4,"yhi":2.93e-4,"chi":-1.5},
{"p":"R","s":"k2","e":1.12,"elo":1.086,"ehi":1.154,"y":3.21e-4,"ylo":3.01e-4,"yhi":3.42e-4,"chi":0.3},
{"p":"R","s":"k2","e":1.2,"elo":1.164,"ehi":1.236,"y":2.75e-4,"ylo":2.54e-4,"yhi":2.96e-4,"chi":-2.3},
{"p":"R","s":"k2","e":1.29,"elo":1.251,"ehi":1.329,"y":3.4e-4,"ylo":3.19e-4,"yhi":3.61e-4,"chi":0.8},
{"p":"R","s":"k2","e":1.38,"elo":1.339,"ehi":1.421,"y":3.07e-4,"ylo":2.86e-4,"yhi":3.27e-4,"chi":-0.4},
{"p":"R","s":"k2","e":1.48,"elo":1.436,"ehi":1.524,"y":3.31e-4,"ylo":3.11e-4,"yhi":3.51e-4,"chi":1.4},
{"p":"R","s":"k2","e":1.59,"elo":1.542,"ehi":1.638,"y":2.67e-4,"ylo":2.49e-4,"yhi":2.86e-4,"chi":-1.1},
{"p":"R","s":"k2","e":1.71,"elo":1.659,"ehi":1.761,"y":3.1e-4,"ylo":2.92e-4,"yhi":3.27e-4,"chi":2.2},
{"p":"R","s":"k2","e":1.84,"elo":1.785,"ehi":1.895,"y":2.43e-4,"ylo":2.27e-4,"yhi":2.59e-4,"chi":-0.6},
{"p":"R","s":"k2","e":1.98,"elo":1.921,"ehi":2.039,"y":2.38e-4,"ylo":2.22e-4,"yhi":2.53e-4,"chi":0.1},
{"p":"R","s":"k2","e":2.13,"elo":2.066,"ehi":2.194,"y":1.88e-4,"ylo":1.72e-4,"yhi":2.04e-4,"chi":-1.9},
{"p":"R","s":"k2","e":2.29,"elo":2.221,"ehi":2.359,"y":2.15e-4,"ylo":2.0e-4,"yhi":2.3e-4,"chi":1.0},
{"p":"R","s":"k2","e":2.46,"elo":2.386,"ehi":2.534,"y":1.77e-4,"ylo":1.64e-4,"yhi":1.91e-4,"chi":-0.2},
{"p":"R","s":"k2","e":2.65,"elo":2.57,"ehi":2.73,"y":1.44e-4,"ylo":1.32e-4,"yhi":1.56e-4,"chi":-1.3},
{"p":"R","s":"k2","e":2.85,"elo":2.765,"ehi":2.935,"y":1.62e-4,"ylo":1.52e-4,"yhi":1.73e-4,"chi":2.0},
{"p":"R","s":"k2","e":3.07,"elo":2.978,"ehi":3.162,"y":1.17e-4,"ylo":1.08e-4,"yhi":1.27e-4,"chi":-0.8},
{"p":"R","s":"k2","e":3.3,"elo":3.2,"ehi":3.4,"y":1.15e-4,"ylo":1.07e-4,"yhi":1.23e-4,"chi":0.5},
{"p":"R","s":"k2","e":3.55,"elo":3.44,"ehi":3.66,"y":8.12e-5,"ylo":7.38e-5,"yhi":8.86e-5,"chi":-2.4},
{"p":"R","s":"k2","e":3.82,"elo":3.71,"ehi":3.93,"y":9.53e-5,"ylo":8.87e-5,"yhi":1.02e-4,"chi":1.1},
{"p":"R","s":"k2","e":4.11,"elo":3.99,"ehi":4.23,"y":7.92e-5,"ylo":7.33e-5,"yhi":8.51e-5,"chi":0.2},
{"p":"R","s":"k2","e":4.42,"elo":4.29,"ehi":4.55,"y":6.52e-5,"ylo":5.99e-5,"yhi":7.05e-5,"chi":-0.9},
{"p":"R","s":"k2","e":4.76,"elo":4.62,"ehi":4.9,"y":6.95e-5,"ylo":6.48e-5,"yhi":7.42e-5,"chi":1.6},
{"p":"R","s":"k2","e":5.12,"elo":4.97,"ehi":5.27,"y":4.82e-5,"ylo":4.26e-5,"yhi":5.38e-5,"chi":-1.4},
{"p":"R","s":"k2","e":5.51,"elo":5.34,"ehi":5.68,"y":5.35e-5,"ylo":4.85e-5,"yhi":5.85e-5,"chi":0.7},
{"p":"R","s":"k2","e":5.93,"elo":5.75,"ehi":6.11,"y":4.32e-5,"ylo":3.87e-5,"yhi":4.77e-5,"chi":-0.3},
{"p":"R","s":"k2","e":6.38,"elo":6.19,"ehi":6.57,"y":4.66e-5,"ylo":4.27e-5,"yhi":5.06e-5,"chi":1.8},
{"p":"R","s":"k2","e":6.87,"elo":6.66,"ehi":7.08,"y":2.91e-5,"ylo":2.56e-5,"yhi":3.26e-5,"chi":-1.7},
{"p":"R","s":"k2","e":7.4,"elo":7.18,"ehi":7.62,"y":3.22e-5,"ylo":2.91e-5,"yhi":3.53e-5,"chi":0.4},
{"p":"R","s":"o","e":0.54,"elo":0.3,"ehi":0.77,"y":0.042,"ylo":0.039,"yhi":0.045,"mod":0.035,"chi":0.95},
{"p":"R","s":"o","e":0.818,"elo":0.77,"ehi":0.86,"y":0.116,"ylo":0.103,"yhi":0.129,"mod":0.111,"chi":-0.3},
{"p":"R","s":"o","e":0.91,"elo":0.86,"ehi":0.96,"y":0.116,"ylo":0.103,"yhi":0.13,"mod":0.12,"chi":-0.4},
{"p":"R","s":"o","e":1.01,"elo":0.96,"ehi":1.07,"y":0.159,"ylo":0.141,"yhi":0.177,"mod":0.15,"chi":0.3},
{"p":"R","s":"o","e":1.13,"elo":1.07,"ehi":1.19,"y":0.209,"ylo":0.186,"yhi":0.232,"mod":0.19,"chi":0.2},
{"p":"R","s":"o","e":1.24,"elo":1.19,"ehi":1.29,"y":0.184,"ylo":0.163,"yhi":0.205,"mod":0.2,"chi":-0.7},
{"p":"R","s":"o","e":1.33,"elo":1.29,"ehi":1.37,"y":0.257,"ylo":0.228,"yhi":0.286,"mod":0.22,"chi":0.9},
{"p":"R","s":"o","e":1.40,"elo":1.37,"ehi":1.44,"y":0.367,"ylo":0.32,"yhi":0.41,"mod":0.235,"chi":1.55},
{"p":"R","s":"o","e":1.47,"elo":1.44,"ehi":1.52,"y":0.209,"ylo":0.185,"yhi":0.233,"mod":0.21,"chi":0.0},
{"p":"R","s":"o","e":1.59,"elo":1.52,"ehi":1.65,"y":0.156,"ylo":0.138,"yhi":0.174,"mod":0.18,"chi":-1.2},
{"p":"R","s":"o","e":1.72,"elo":1.65,"ehi":1.78,"y":0.155,"ylo":0.137,"yhi":0.173,"mod":0.155,"chi":0.1},
{"p":"R","s":"o","e":1.85,"elo":1.78,"ehi":1.93,"y":0.129,"ylo":0.114,"yhi":0.144,"mod":0.14,"chi":-0.85},
{"p":"R","s":"o","e":2.02,"elo":1.93,"ehi":2.1,"y":0.129,"ylo":0.114,"yhi":0.144,"mod":0.125,"chi":0.25},
{"p":"R","s":"o","e":2.19,"elo":2.1,"ehi":2.3,"y":0.094,"ylo":0.083,"yhi":0.105,"mod":0.105,"chi":-0.3},
{"p":"R","s":"o","e":2.42,"elo":2.3,"ehi":2.55,"y":0.08,"ylo":0.071,"yhi":0.089,"mod":0.088,"chi":0.6},
{"p":"R","s":"o","e":2.69,"elo":2.55,"ehi":2.82,"y":0.08,"ylo":0.071,"yhi":0.089,"mod":0.074,"chi":0.7},
{"p":"R","s":"o","e":2.96,"elo":2.82,"ehi":3.15,"y":0.056,"ylo":0.05,"yhi":0.062,"mod":0.062,"chi":-0.3},
{"p":"R","s":"o","e":3.41,"elo":3.15,"ehi":3.65,"y":0.048,"ylo":0.043,"yhi":0.053,"mod":0.052,"chi":1.2},
{"p":"R","s":"o","e":3.90,"elo":3.65,"ehi":4.15,"y":0.041,"ylo":0.036,"yhi":0.046,"mod":0.044,"chi":-0.85},
{"p":"R","s":"o","e":4.40,"elo":4.15,"ehi":4.63,"y":0.041,"ylo":0.036,"yhi":0.046,"mod":0.037,"chi":1.2},
{"p":"R","s":"o","e":7.45,"elo":4.63,"ehi":10,"y":0.0072,"ylo":0.0066,"yhi":0.0078,"mod":0.0078,"chi":-0.6},
{"p":"R","s":"o","elo":10,"mod":0.0078},
{"p":"R","s":"r","e":4.6,"elo":2.95,"ehi":6.1,"y":0.013,"ylo":0.0118,"yhi":0.0142,"mod":0.016,"chi":-1.0},
{"p":"R","s":"r","e":7.65,"elo":6.1,"ehi":9.1,"y":0.0145,"ylo":0.0128,"yhi":0.0162,"mod":0.0135,"chi":0.4},
{"p":"R","s":"r","e":13.0,"elo":9.1,"ehi":16.9,"y":0.0058,"ylo":0.005,"yhi":0.0066,"mod":0.0052,"chi":0.75},
{"p":"R","s":"r","elo":16.9,"mod":0.0052},
{"p":"R","s":"b","e":0.77,"elo":0.3,"ehi":1.24,"y":1.58e-5,"ylo":1.48e-5,"yhi":1.68e-5,"mod":1.55e-5,"chi":0.25},
{"p":"R","s":"b","e":1.42,"elo":1.24,"ehi":1.59,"y":2.31e-5,"ylo":1.8e-5,"yhi":2.85e-5,"mod":1.85e-5,"chi":0.95},
{"p":"R","s":"b","e":2.22,"elo":1.59,"ehi":2.9,"y":8.8e-6,"ylo":7.6e-6,"yhi":1.0e-5,"mod":1.28e-5,"chi":-1.75},
{"p":"R","s":"b","e":3.26,"elo":2.9,"ehi":3.7,"y":1.49e-5,"ylo":1.3e-5,"yhi":1.7e-5,"mod":7.6e-6,"chi":2.1},
{"p":"R","s":"b","e":6.86,"elo":3.7,"ehi":10,"y":4.06e-6,"ylo":3.3e-6,"yhi":4.8e-6,"mod":3.7e-6,"chi":0.5},
{"p":"R","s":"b","elo":10,"mod":3.7e-6},
{"p":"R","s":"c","e":4.18,"elo":2.98,"ehi":5.39,"y":6.3e-6,"ylo":5.0e-6,"yhi":7.8e-6,"mod":5.0e-6,"chi":0.48},
{"p":"R","s":"c","e":7.18,"elo":5.39,"ehi":9.2,"y":3.3e-6,"ylo":2.6e-6,"yhi":4.0e-6,"mod":2.5e-6,"chi":0.67},
{"p":"R","s":"c","e":19.7,"elo":9.2,"ehi":30.3,"y":5.2e-7,"ylo":9.0e-8,"yhi":8.6e-7,"mod":8.6e-7,"chi":-1.0},
{"p":"R","s":"c","elo":30.3,"mod":8.6e-7}
]
},
"spacing": 59,
"hconcat": [
{
 "bounds": "flush",
 "spacing": 0,
 "vconcat": [
  {
   "width": 486, "height": 256,
   "data": {"name": "d"},
   "transform": [{"filter": "datum.p == 'L'"}],
   "resolve": {"axis": {"x": "independent", "y": "independent"}},
   "layer": [
    {"mark": {"type": "point", "opacity": 0},
     "encoding": {
      "x": {"field": "e", "type": "quantitative", "scale": {"type": "log", "domain": [0.3, 80], "nice": false}, "axis": {"orient": "bottom", "values": [0.4,0.5,0.6,0.7,0.8,0.9,2,3,4,5,6,7,8,9,20,30,40,50,60,70], "tickSize": -4, "labels": false, "title": null}},
      "y": {"field": "y", "type": "quantitative", "scale": {"type": "log", "domain": [2e-7, 4e-4], "nice": false}, "axis": {"orient": "left", "values": [3e-7,4e-7,5e-7,6e-7,7e-7,8e-7,9e-7,2e-6,3e-6,4e-6,5e-6,6e-6,7e-6,8e-6,9e-6,2e-5,3e-5,4e-5,5e-5,6e-5,7e-5,8e-5,9e-5,2e-4,3e-4], "tickSize": -4, "labels": false, "title": null}}}},
    {"mark": {"type": "point", "opacity": 0},
     "encoding": {
      "x": {"field": "e", "type": "quantitative", "scale": {"type": "log", "domain": [0.3, 80], "nice": false}, "axis": {"orient": "bottom", "values": [1, 10], "tickSize": -8, "labels": false, "title": null}},
      "y": {"field": "y", "type": "quantitative", "scale": {"type": "log", "domain": [2e-7, 4e-4], "nice": false}, "axis": {"orient": "left", "values": [1e-6, 1e-5, 1e-4], "tickSize": -8, "labels": false, "title": null}}}},
    {"mark": {"type": "point", "opacity": 0},
     "encoding": {
      "x": {"field": "e", "type": "quantitative", "scale": {"type": "log", "domain": [0.3, 80], "nice": false}, "axis": {"orient": "top", "values": [0.4,0.5,0.6,0.7,0.8,0.9,2,3,4,5,6,7,8,9,20,30,40,50,60,70], "tickSize": -4, "labels": false, "title": null}},
      "y": {"field": "y", "type": "quantitative", "scale": {"type": "log", "domain": [2e-7, 4e-4], "nice": false}, "axis": {"orient": "right", "values": [3e-7,4e-7,5e-7,6e-7,7e-7,8e-7,9e-7,2e-6,3e-6,4e-6,5e-6,6e-6,7e-6,8e-6,9e-6,2e-5,3e-5,4e-5,5e-5,6e-5,7e-5,8e-5,9e-5,2e-4,3e-4], "tickSize": -4, "labels": false, "title": null}}}},
    {"mark": {"type": "point", "opacity": 0},
     "encoding": {
      "x": {"field": "e", "type": "quantitative", "scale": {"type": "log", "domain": [0.3, 80], "nice": false}, "axis": {"orient": "top", "values": [1, 10], "tickSize": -8, "labels": false, "title": null}},
      "y": {"field": "y", "type": "quantitative", "scale": {"type": "log", "domain": [2e-7, 4e-4], "nice": false}, "axis": {"orient": "right", "values": [1e-6, 1e-5, 1e-4], "tickSize": -8, "labels": false, "title": null}}}},
    {"mark": {"type": "point", "opacity": 0},
     "encoding": {
      "x": {"field": "e", "type": "quantitative", "scale": {"type": "log", "domain": [0.3, 80], "nice": false}, "axis": null},
      "y": {"field": "y", "type": "quantitative", "scale": {"type": "log", "domain": [2e-7, 4e-4], "nice": false}, "axis": {"orient": "left", "values": [1e-6, 1e-5, 1e-4], "ticks": false, "labelPadding": 14, "labelExpr": "datum.value > 0.5 ? '1' : datum.value > 0.05 ? '0.1' : datum.value > 0.005 ? '0.01' : datum.value > 5e-4 ? '10⁻³' : datum.value > 5e-5 ? '10⁻⁴' : datum.value > 5e-6 ? '10⁻⁵' : '10⁻⁶'", "title": "Counts s⁻¹ keV⁻¹ cm⁻²", "titleX": -76, "titleBaseline": "top", "titlePadding": 0}}}},
    {"transform": [{"filter": "isValid(datum.mod)"}],
     "mark": {"type": "line", "interpolate": "step-after", "strokeWidth": 1.5, "clip": true},
     "encoding": {
      "x": {"field": "elo", "type": "quantitative", "scale": {"type": "log", "domain": [0.3, 80], "nice": false}, "axis": null},
      "y": {"field": "mod", "type": "quantitative", "scale": {"type": "log", "domain": [2e-7, 4e-4], "nice": false}, "axis": null},
      "color": {"field": "s", "type": "nominal", "scale": {"domain": ["k","r","gr","b","c","o","gy","k2","r2","gr2","gy2"], "range": ["#000000","#ff0000","#00ff00","#0000ff","#00ffff","#ff8800","#a8a8a8","#000000","#ff0000","#00ff00","#a8a8a8"]}, "legend": null}}},
    {"transform": [{"filter": "isValid(datum.y)"}],
     "mark": {"type": "rule", "strokeWidth": 1.2, "opacity": 0.9, "clip": true},
     "encoding": {
      "x": {"field": "elo", "type": "quantitative", "scale": {"type": "log", "domain": [0.3, 80], "nice": false}, "axis": null},
      "x2": {"field": "ehi"},
      "y": {"field": "y", "type": "quantitative", "scale": {"type": "log", "domain": [2e-7, 4e-4], "nice": false}, "axis": null},
      "color": {"field": "s", "type": "nominal", "scale": {"domain": ["k","r","gr","b","c","o","gy","k2","r2","gr2","gy2"], "range": ["#000000","#ff0000","#00ff00","#0000ff","#00ffff","#ff8800","#a8a8a8","#000000","#ff0000","#00ff00","#a8a8a8"]}, "legend": null}}},
    {"transform": [{"filter": "isValid(datum.y)"}],
     "mark": {"type": "rule", "strokeWidth": 1.2, "opacity": 0.9, "clip": true},
     "encoding": {
      "x": {"field": "e", "type": "quantitative", "scale": {"type": "log", "domain": [0.3, 80], "nice": false}, "axis": null},
      "y": {"field": "ylo", "type": "quantitative", "scale": {"type": "log", "domain": [2e-7, 4e-4], "nice": false}, "axis": null},
      "y2": {"field": "yhi"},
      "color": {"field": "s", "type": "nominal", "scale": {"domain": ["k","r","gr","b","c","o","gy","k2","r2","gr2","gy2"], "range": ["#000000","#ff0000","#00ff00","#0000ff","#00ffff","#ff8800","#a8a8a8","#000000","#ff0000","#00ff00","#a8a8a8"]}, "legend": null}}}
   ]
  },
  {
   "width": 486, "height": 139,
   "data": {"name": "d"},
   "transform": [{"filter": "datum.p == 'L' && isValid(datum.chi)"}],
   "resolve": {"axis": {"x": "independent", "y": "independent"}},
   "layer": [
    {"mark": {"type": "point", "opacity": 0},
     "encoding": {
      "x": {"field": "e", "type": "quantitative", "scale": {"type": "log", "domain": [0.3, 80], "nice": false}, "axis": {"orient": "bottom", "values": [0.4,0.5,0.6,0.7,0.8,0.9,2,3,4,5,6,7,8,9,20,30,40,50,60,70], "tickSize": -4, "labels": false, "title": null}},
      "y": {"field": "chi", "type": "quantitative", "scale": {"domain": [-5, 5], "nice": false, "zero": false}, "axis": {"orient": "left", "values": [-3,-1,1,3], "tickSize": -4, "labels": false, "title": null}}}},
    {"mark": {"type": "point", "opacity": 0},
     "encoding": {
      "x": {"field": "e", "type": "quantitative", "scale": {"type": "log", "domain": [0.3, 80], "nice": false}, "axis": {"orient": "bottom", "values": [1, 10], "tickSize": -8, "labels": false, "title": null}},
      "y": {"field": "chi", "type": "quantitative", "scale": {"domain": [-5, 5], "nice": false, "zero": false}, "axis": {"orient": "left", "values": [-4,-2,0,2,4], "tickSize": -8, "labels": false, "title": null}}}},
    {"mark": {"type": "point", "opacity": 0},
     "encoding": {
      "x": {"field": "e", "type": "quantitative", "scale": {"type": "log", "domain": [0.3, 80], "nice": false}, "axis": {"orient": "top", "values": [0.4,0.5,0.6,0.7,0.8,0.9,2,3,4,5,6,7,8,9,20,30,40,50,60,70], "tickSize": -4, "labels": false, "title": null}},
      "y": {"field": "chi", "type": "quantitative", "scale": {"domain": [-5, 5], "nice": false, "zero": false}, "axis": {"orient": "right", "values": [-3,-1,1,3], "tickSize": -4, "labels": false, "title": null}}}},
    {"mark": {"type": "point", "opacity": 0},
     "encoding": {
      "x": {"field": "e", "type": "quantitative", "scale": {"type": "log", "domain": [0.3, 80], "nice": false}, "axis": {"orient": "top", "values": [1, 10], "tickSize": -8, "labels": false, "title": null}},
      "y": {"field": "chi", "type": "quantitative", "scale": {"domain": [-5, 5], "nice": false, "zero": false}, "axis": {"orient": "right", "values": [-4,-2,0,2,4], "tickSize": -8, "labels": false, "title": null}}}},
    {"mark": {"type": "point", "opacity": 0},
     "encoding": {
      "x": {"field": "e", "type": "quantitative", "scale": {"type": "log", "domain": [0.3, 80], "nice": false}, "axis": {"orient": "bottom", "values": [1, 10], "ticks": false, "labelPadding": 8, "labelExpr": "datum.value < 5 ? '1' : '10'", "title": "Energy (keV)", "titlePadding": 2, "titleFontSize": 27}},
      "y": {"field": "chi", "type": "quantitative", "scale": {"domain": [-5, 5], "nice": false, "zero": false}, "axis": {"orient": "left", "values": [-4,-2,0,2,4], "ticks": false, "labelPadding": 14, "title": "χ", "titleAngle": 270, "titleAlign": "center", "titleBaseline": "middle", "titleX": -63, "titleY": 69.5}}}},
    {"data": {"values": [{}]},
     "mark": {"type": "rule", "color": "#ee44ee", "strokeWidth": 1.5},
     "encoding": {"y": {"datum": 0, "type": "quantitative", "scale": {"domain": [-5, 5], "nice": false, "zero": false}, "axis": null}}},
    {"mark": {"type": "rule", "strokeWidth": 1.2, "opacity": 0.9, "clip": true},
     "encoding": {
      "x": {"field": "elo", "type": "quantitative", "scale": {"type": "log", "domain": [0.3, 80], "nice": false}, "axis": null},
      "x2": {"field": "ehi"},
      "y": {"field": "chi", "type": "quantitative", "scale": {"domain": [-5, 5], "nice": false, "zero": false}, "axis": null},
      "color": {"field": "s", "type": "nominal", "scale": {"domain": ["k","r","gr","b","c","o","gy","k2","r2","gr2","gy2"], "range": ["#000000","#ff0000","#00ff00","#0000ff","#00ffff","#ff8800","#a8a8a8","#000000","#ff0000","#00ff00","#a8a8a8"]}, "legend": null}}},
    {"mark": {"type": "tick", "orient": "vertical", "size": 28, "thickness": 1.2, "opacity": 0.9, "clip": true},
     "encoding": {
      "x": {"field": "e", "type": "quantitative", "scale": {"type": "log", "domain": [0.3, 80], "nice": false}, "axis": null},
      "y": {"field": "chi", "type": "quantitative", "scale": {"domain": [-5, 5], "nice": false, "zero": false}, "axis": null},
      "color": {"field": "s", "type": "nominal", "scale": {"domain": ["k","r","gr","b","c","o","gy","k2","r2","gr2","gy2"], "range": ["#000000","#ff0000","#00ff00","#0000ff","#00ffff","#ff8800","#a8a8a8","#000000","#ff0000","#00ff00","#a8a8a8"]}, "legend": null}}}
   ]
  }
 ]
},
{
 "bounds": "flush",
 "spacing": 0,
 "vconcat": [
  {
   "width": 488, "height": 256,
   "data": {"name": "d"},
   "transform": [{"filter": "datum.p == 'R'"}],
   "resolve": {"axis": {"x": "independent", "y": "independent"}},
   "layer": [
    {"mark": {"type": "point", "opacity": 0},
     "encoding": {
      "x": {"field": "e", "type": "quantitative", "scale": {"type": "log", "domain": [0.3, 80], "nice": false}, "axis": {"orient": "bottom", "values": [0.4,0.5,0.6,0.7,0.8,0.9,2,3,4,5,6,7,8,9,20,30,40,50,60,70], "tickSize": -4, "labels": false, "title": null}},
      "y": {"field": "y", "type": "quantitative", "scale": {"type": "log", "domain": [1e-7, 1], "nice": false}, "axis": {"orient": "left", "values": [2e-7,3e-7,4e-7,5e-7,6e-7,7e-7,8e-7,9e-7,2e-6,3e-6,4e-6,5e-6,6e-6,7e-6,8e-6,9e-6,2e-5,3e-5,4e-5,5e-5,6e-5,7e-5,8e-5,9e-5,2e-4,3e-4,4e-4,5e-4,6e-4,7e-4,8e-4,9e-4,0.002,0.003,0.004,0.005,0.006,0.007,0.008,0.009,0.02,0.03,0.04,0.05,0.06,0.07,0.08,0.09,0.2,0.3,0.4,0.5,0.6,0.7,0.8,0.9], "tickSize": -4, "labels": false, "title": null}}}},
    {"mark": {"type": "point", "opacity": 0},
     "encoding": {
      "x": {"field": "e", "type": "quantitative", "scale": {"type": "log", "domain": [0.3, 80], "nice": false}, "axis": {"orient": "bottom", "values": [1, 10], "tickSize": -8, "labels": false, "title": null}},
      "y": {"field": "y", "type": "quantitative", "scale": {"type": "log", "domain": [1e-7, 1], "nice": false}, "axis": {"orient": "left", "values": [1e-6,1e-5,1e-4,1e-3,0.01,0.1], "tickSize": -8, "labels": false, "title": null}}}},
    {"mark": {"type": "point", "opacity": 0},
     "encoding": {
      "x": {"field": "e", "type": "quantitative", "scale": {"type": "log", "domain": [0.3, 80], "nice": false}, "axis": {"orient": "top", "values": [0.4,0.5,0.6,0.7,0.8,0.9,2,3,4,5,6,7,8,9,20,30,40,50,60,70], "tickSize": -4, "labels": false, "title": null}},
      "y": {"field": "y", "type": "quantitative", "scale": {"type": "log", "domain": [1e-7, 1], "nice": false}, "axis": {"orient": "right", "values": [2e-7,3e-7,4e-7,5e-7,6e-7,7e-7,8e-7,9e-7,2e-6,3e-6,4e-6,5e-6,6e-6,7e-6,8e-6,9e-6,2e-5,3e-5,4e-5,5e-5,6e-5,7e-5,8e-5,9e-5,2e-4,3e-4,4e-4,5e-4,6e-4,7e-4,8e-4,9e-4,0.002,0.003,0.004,0.005,0.006,0.007,0.008,0.009,0.02,0.03,0.04,0.05,0.06,0.07,0.08,0.09,0.2,0.3,0.4,0.5,0.6,0.7,0.8,0.9], "tickSize": -4, "labels": false, "title": null}}}},
    {"mark": {"type": "point", "opacity": 0},
     "encoding": {
      "x": {"field": "e", "type": "quantitative", "scale": {"type": "log", "domain": [0.3, 80], "nice": false}, "axis": {"orient": "top", "values": [1, 10], "tickSize": -8, "labels": false, "title": null}},
      "y": {"field": "y", "type": "quantitative", "scale": {"type": "log", "domain": [1e-7, 1], "nice": false}, "axis": {"orient": "right", "values": [1e-6,1e-5,1e-4,1e-3,0.01,0.1], "tickSize": -8, "labels": false, "title": null}}}},
    {"mark": {"type": "point", "opacity": 0},
     "encoding": {
      "x": {"field": "e", "type": "quantitative", "scale": {"type": "log", "domain": [0.3, 80], "nice": false}, "axis": null},
      "y": {"field": "y", "type": "quantitative", "scale": {"type": "log", "domain": [1e-7, 1], "nice": false}, "axis": {"orient": "left", "values": [1e-6,1e-5,1e-4,1e-3,0.01,0.1,1], "ticks": false, "labelPadding": 14, "labelExpr": "datum.value > 0.5 ? '1' : datum.value > 0.05 ? '0.1' : datum.value > 0.005 ? '0.01' : datum.value > 5e-4 ? '10⁻³' : datum.value > 5e-5 ? '10⁻⁴' : datum.value > 5e-6 ? '10⁻⁵' : '10⁻⁶'", "title": "Counts s⁻¹ keV⁻¹ cm⁻²", "titleX": -81, "titleBaseline": "top", "titlePadding": 0}}}},
    {"transform": [{"filter": "isValid(datum.mod)"}],
     "mark": {"type": "line", "interpolate": "step-after", "strokeWidth": 1.5, "clip": true},
     "encoding": {
      "x": {"field": "elo", "type": "quantitative", "scale": {"type": "log", "domain": [0.3, 80], "nice": false}, "axis": null},
      "y": {"field": "mod", "type": "quantitative", "scale": {"type": "log", "domain": [1e-7, 1], "nice": false}, "axis": null},
      "color": {"field": "s", "type": "nominal", "scale": {"domain": ["k","r","gr","b","c","o","gy","k2","r2","gr2","gy2"], "range": ["#000000","#ff0000","#00ff00","#0000ff","#00ffff","#ff8800","#a8a8a8","#000000","#ff0000","#00ff00","#a8a8a8"]}, "legend": null}}},
    {"transform": [{"filter": "isValid(datum.y)"}],
     "mark": {"type": "rule", "strokeWidth": 1.2, "opacity": 0.9, "clip": true},
     "encoding": {
      "x": {"field": "elo", "type": "quantitative", "scale": {"type": "log", "domain": [0.3, 80], "nice": false}, "axis": null},
      "x2": {"field": "ehi"},
      "y": {"field": "y", "type": "quantitative", "scale": {"type": "log", "domain": [1e-7, 1], "nice": false}, "axis": null},
      "color": {"field": "s", "type": "nominal", "scale": {"domain": ["k","r","gr","b","c","o","gy","k2","r2","gr2","gy2"], "range": ["#000000","#ff0000","#00ff00","#0000ff","#00ffff","#ff8800","#a8a8a8","#000000","#ff0000","#00ff00","#a8a8a8"]}, "legend": null}}},
    {"transform": [{"filter": "isValid(datum.y)"}],
     "mark": {"type": "rule", "strokeWidth": 1.2, "opacity": 0.9, "clip": true},
     "encoding": {
      "x": {"field": "e", "type": "quantitative", "scale": {"type": "log", "domain": [0.3, 80], "nice": false}, "axis": null},
      "y": {"field": "ylo", "type": "quantitative", "scale": {"type": "log", "domain": [1e-7, 1], "nice": false}, "axis": null},
      "y2": {"field": "yhi"},
      "color": {"field": "s", "type": "nominal", "scale": {"domain": ["k","r","gr","b","c","o","gy","k2","r2","gr2","gy2"], "range": ["#000000","#ff0000","#00ff00","#0000ff","#00ffff","#ff8800","#a8a8a8","#000000","#ff0000","#00ff00","#a8a8a8"]}, "legend": null}}}
   ]
  },
  {
   "width": 488, "height": 139,
   "data": {"name": "d"},
   "transform": [{"filter": "datum.p == 'R' && isValid(datum.chi)"}],
   "resolve": {"axis": {"x": "independent", "y": "independent"}},
   "layer": [
    {"mark": {"type": "point", "opacity": 0},
     "encoding": {
      "x": {"field": "e", "type": "quantitative", "scale": {"type": "log", "domain": [0.3, 80], "nice": false}, "axis": {"orient": "bottom", "values": [0.4,0.5,0.6,0.7,0.8,0.9,2,3,4,5,6,7,8,9,20,30,40,50,60,70], "tickSize": -4, "labels": false, "title": null}},
      "y": {"field": "chi", "type": "quantitative", "scale": {"domain": [-5, 5], "nice": false, "zero": false}, "axis": {"orient": "left", "values": [-3,-1,1,3], "tickSize": -4, "labels": false, "title": null}}}},
    {"mark": {"type": "point", "opacity": 0},
     "encoding": {
      "x": {"field": "e", "type": "quantitative", "scale": {"type": "log", "domain": [0.3, 80], "nice": false}, "axis": {"orient": "bottom", "values": [1, 10], "tickSize": -8, "labels": false, "title": null}},
      "y": {"field": "chi", "type": "quantitative", "scale": {"domain": [-5, 5], "nice": false, "zero": false}, "axis": {"orient": "left", "values": [-4,-2,0,2,4], "tickSize": -8, "labels": false, "title": null}}}},
    {"mark": {"type": "point", "opacity": 0},
     "encoding": {
      "x": {"field": "e", "type": "quantitative", "scale": {"type": "log", "domain": [0.3, 80], "nice": false}, "axis": {"orient": "top", "values": [0.4,0.5,0.6,0.7,0.8,0.9,2,3,4,5,6,7,8,9,20,30,40,50,60,70], "tickSize": -4, "labels": false, "title": null}},
      "y": {"field": "chi", "type": "quantitative", "scale": {"domain": [-5, 5], "nice": false, "zero": false}, "axis": {"orient": "right", "values": [-3,-1,1,3], "tickSize": -4, "labels": false, "title": null}}}},
    {"mark": {"type": "point", "opacity": 0},
     "encoding": {
      "x": {"field": "e", "type": "quantitative", "scale": {"type": "log", "domain": [0.3, 80], "nice": false}, "axis": {"orient": "top", "values": [1, 10], "tickSize": -8, "labels": false, "title": null}},
      "y": {"field": "chi", "type": "quantitative", "scale": {"domain": [-5, 5], "nice": false, "zero": false}, "axis": {"orient": "right", "values": [-4,-2,0,2,4], "tickSize": -8, "labels": false, "title": null}}}},
    {"mark": {"type": "point", "opacity": 0},
     "encoding": {
      "x": {"field": "e", "type": "quantitative", "scale": {"type": "log", "domain": [0.3, 80], "nice": false}, "axis": {"orient": "bottom", "values": [1, 10], "ticks": false, "labelPadding": 8, "labelExpr": "datum.value < 5 ? '1' : '10'", "title": "Energy (keV)", "titlePadding": 2, "titleFontSize": 27}},
      "y": {"field": "chi", "type": "quantitative", "scale": {"domain": [-5, 5], "nice": false, "zero": false}, "axis": {"orient": "left", "values": [-4,-2,0,2,4], "ticks": false, "labelPadding": 14, "title": "χ", "titleAngle": 270, "titleAlign": "center", "titleBaseline": "middle", "titleX": -67, "titleY": 69.5}}}},
    {"data": {"values": [{}]},
     "mark": {"type": "rule", "color": "#ee44ee", "strokeWidth": 1.5},
     "encoding": {"y": {"datum": 0, "type": "quantitative", "scale": {"domain": [-5, 5], "nice": false, "zero": false}, "axis": null}}},
    {"mark": {"type": "rule", "strokeWidth": 1.2, "opacity": 0.9, "clip": true},
     "encoding": {
      "x": {"field": "elo", "type": "quantitative", "scale": {"type": "log", "domain": [0.3, 80], "nice": false}, "axis": null},
      "x2": {"field": "ehi"},
      "y": {"field": "chi", "type": "quantitative", "scale": {"domain": [-5, 5], "nice": false, "zero": false}, "axis": null},
      "color": {"field": "s", "type": "nominal", "scale": {"domain": ["k","r","gr","b","c","o","gy","k2","r2","gr2","gy2"], "range": ["#000000","#ff0000","#00ff00","#0000ff","#00ffff","#ff8800","#a8a8a8","#000000","#ff0000","#00ff00","#a8a8a8"]}, "legend": null}}},
    {"mark": {"type": "tick", "orient": "vertical", "size": 28, "thickness": 1.2, "opacity": 0.9, "clip": true},
     "encoding": {
      "x": {"field": "e", "type": "quantitative", "scale": {"type": "log", "domain": [0.3, 80], "nice": false}, "axis": null},
      "y": {"field": "chi", "type": "quantitative", "scale": {"domain": [-5, 5], "nice": false, "zero": false}, "axis": null},
      "color": {"field": "s", "type": "nominal", "scale": {"domain": ["k","r","gr","b","c","o","gy","k2","r2","gr2","gy2"], "range": ["#000000","#ff0000","#00ff00","#0000ff","#00ffff","#ff8800","#a8a8a8","#000000","#ff0000","#00ff00","#a8a8a8"]}, "legend": null}}}
   ]
  }
 ]
}
]
}
